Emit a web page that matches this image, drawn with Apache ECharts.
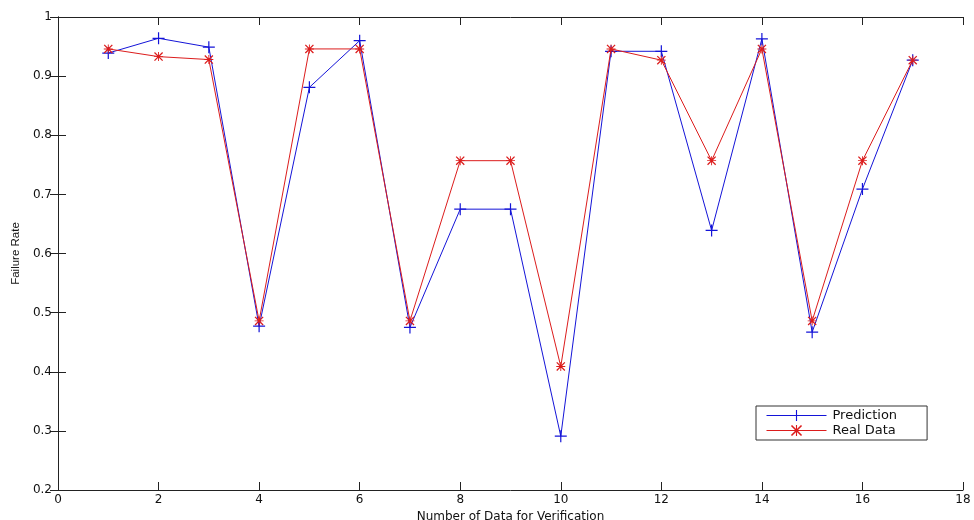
<!DOCTYPE html>
<html lang="en">
<head>
    <meta charset="UTF-8">
    <title>Failure Rate</title>
    <script src="https://cdn.jsdelivr.net/npm/echarts@6/dist/echarts.min.js"></script>
    <style>
        html, body { margin: 0; padding: 0; background: #fff; }
    </style>
</head>
<body>
<div id="main" style="width: 974px;height:520px;"></div>

<script type="text/javascript">
    // data
    var sampleNo = [1, 2, 3, 4, 5, 6, 7, 8, 9, 10, 11, 12, 13, 14, 15, 16, 17];
    var prediction = [0.939, 0.964, 0.949, 0.477, 0.881, 0.960, 0.475, 0.675, 0.675, 0.291, 0.942, 0.942, 0.639, 0.963, 0.467, 0.709, 0.927];
    var realData = [0.946, 0.933, 0.928, 0.486, 0.946, 0.946, 0.486, 0.757, 0.757, 0.409, 0.946, 0.927, 0.757, 0.946, 0.486, 0.757, 0.927];
    var seriesNames = ['Prediction', 'Real Data'];

    // matlab style markers: '+' and '*'
    var plusMark = 'path://M4.5,0h1v10h-1zM0,4.5h10v1h-10z';
    var starMark = 'path://M4.5,0h1v10h-1zM0,4.5h10v1h-10zM0,1L1,0L10,9L9,10ZM9,0L10,1L1,10L0,9Z';

    function pairs(ys) {
        var out = [];
        for (var i = 0; i < sampleNo.length; i++) {
            out.push([sampleNo[i], ys[i]]);
        }
        return out;
    }

    var wideFont = 'DejaVu Sans, sans-serif';   // the picture is a bit stretched sideways
    var narrowFont = 'Liberation Sans, Arial, sans-serif';
    var axisColor = '#222';
    var blue = '#1414d8';
    var red = '#dc1c1c';

    var myChart = echarts.init(document.getElementById('main'));

    var option = {
        backgroundColor: '#fff',
        animation: false,
        grid: { left: 58, right: 11, top: 17, bottom: 30, outerBoundsMode: 'none', containLabel: false },
        legend: {
            orient: 'vertical',
            left: 756,
            top: 406,
            padding: [3, 30, 3, 10],
            itemGap: 2,
            itemWidth: 60,
            itemHeight: 14,
            backgroundColor: '#fff',
            borderColor: '#333',
            borderWidth: 1,
            borderRadius: 0,
            lineStyle: { width: 1 },
            textStyle: { fontFamily: wideFont, fontSize: 13, color: '#111', padding: [0, 0, 0, 1] },
            data: seriesNames
        },
        xAxis: [
            {
                type: 'value',
                min: 0, max: 18, interval: 2,
                name: 'Number of Data for Verification',
                nameLocation: 'middle',
                nameGap: 19,
                nameTextStyle: { fontFamily: wideFont, fontSize: 12, color: '#111' },
                axisLine: { lineStyle: { color: axisColor, width: 1 } },
                axisTick: { inside: true, length: 8, lineStyle: { color: axisColor } },
                axisLabel: { fontFamily: wideFont, fontSize: 12, color: '#111', margin: 4 },
                splitLine: { show: false }
            },
            {
                type: 'value', position: 'top',
                min: 0, max: 18, interval: 2,
                axisLine: { lineStyle: { color: axisColor, width: 1 } },
                axisTick: { inside: true, length: 8, lineStyle: { color: axisColor } },
                axisLabel: { show: false },
                splitLine: { show: false }
            }
        ],
        yAxis: [
            {
                type: 'value',
                min: 0.2, max: 1, interval: 0.1,
                name: 'Failure Rate',
                nameLocation: 'middle',
                nameGap: 34,
                nameTextStyle: { fontFamily: narrowFont, fontSize: 11.5, color: '#111' },
                axisLine: { show: true, lineStyle: { color: axisColor, width: 1 } },
                axisTick: { show: true, inside: true, length: 8, lineStyle: { color: axisColor } },
                axisLabel: {
                    fontFamily: wideFont, fontSize: 12, color: '#111', margin: 6,
                    formatter: function (v) { return String(parseFloat(v.toFixed(2))); }
                },
                splitLine: { show: false }
            },
            {
                type: 'value', position: 'right',
                min: 0.2, max: 1, interval: 0.1,
                axisLine: { show: true, lineStyle: { color: axisColor, width: 1 } },
                axisTick: { show: true, inside: true, length: 8, lineStyle: { color: axisColor } },
                axisLabel: { show: false },
                splitLine: { show: false }
            }
        ],
        series: [
            {
                name: seriesNames[0],
                type: 'line',
                data: pairs(prediction),
                symbol: plusMark,
                symbolSize: 12,
                showAllSymbol: true,
                lineStyle: { color: blue, width: 1 },
                itemStyle: { color: blue },
                z: 2
            },
            {
                name: seriesNames[1],
                type: 'line',
                data: pairs(realData),
                symbol: starMark,
                symbolSize: 9,
                showAllSymbol: true,
                lineStyle: { color: red, width: 1 },
                itemStyle: { color: red },
                z: 3
            }
        ]
    };
    myChart.setOption(option);
</script>
</body>
</html>
